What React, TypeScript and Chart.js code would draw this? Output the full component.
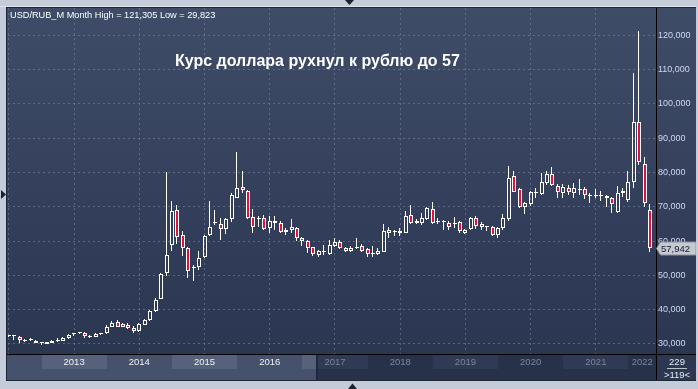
import React, { useEffect, useRef } from 'react';
import { Chart, registerables } from 'chart.js';

Chart.register(...registerables);

// ---- data: monthly USD/RUB candles, Jul 2012 .. May 2022 (119 bars) ----
const START_YEAR = 2012;
const START_MONTH = 6; // July (0-based)
const months: string[] = Array.from({ length: 119 }, (_, i) => {
  const m = START_MONTH + i;
  return `${START_YEAR + Math.floor(m / 12)}-${String((m % 12) + 1).padStart(2, '0')}`;
});

const opens = [
  32.25, 32.2, 31.9, 31.0, 31.2, 30.8, 30.3, 30.0, 30.4, 31.0,
  31.0, 31.7, 32.8, 33.1, 33.2, 32.1, 32.0, 32.8, 33.2, 35.0,
  36.5, 35.0, 35.5, 34.7, 33.9, 35.6, 36.9, 39.5, 43.1, 50.8,
  59.0, 69.0, 61.7, 57.9, 52.2, 52.4, 55.5, 61.9, 65.4, 64.9,
  63.6, 66.4, 72.7, 75.7, 74.5, 66.9, 66.4, 66.6, 63.9, 65.9,
  65.2, 62.6, 63.1, 63.7, 60.8, 60.1, 58.2, 55.8, 56.8, 56.3,
  58.7, 59.7, 57.9, 57.2, 58.1, 58.6, 57.6, 56.2, 56.2, 56.9,
  63.25, 62.6, 63.0, 62.5, 67.6, 65.2, 65.4, 66.4, 69.3, 65.6,
  65.7, 65.4, 65.1, 65.5, 62.5, 63.5, 66.6, 65.0, 64.0, 64.2,
  61.7, 63.7, 66.4, 78.9, 75.1, 69.8, 70.8, 74.0, 73.7, 76.8,
  79.7, 76.2, 74.0, 75.4, 73.9, 75.3, 75.2, 73.3, 73.1, 73.2,
  73.1, 72.5, 68.4, 73.9, 72.1, 77.1, 94.6, 82.5, 69.1,
];

const highs = [
  32.4, 32.7, 32.4, 31.4, 31.6, 31.1, 30.5, 30.7, 31.1, 31.6,
  32.0, 33.0, 33.3, 33.3, 33.4, 32.5, 33.2, 33.3, 35.4, 36.6,
  37.0, 36.2, 36.0, 35.2, 36.0, 37.4, 39.9, 43.4, 50.6, 80.2,
  71.7, 70.5, 63.0, 58.4, 53.1, 57.1, 61.8, 71.7, 69.1, 66.7,
  66.7, 73.9, 86.0, 80.4, 74.9, 69.3, 67.4, 67.5, 67.3, 67.3,
  65.8, 63.8, 66.4, 64.2, 61.3, 60.3, 58.4, 57.4, 58.9, 60.3,
  60.8, 60.3, 58.4, 58.6, 60.8, 59.2, 58.0, 58.6, 58.0, 64.9,
  64.0, 63.3, 63.9, 68.9, 70.5, 66.4, 68.1, 69.8, 71.5, 66.6,
  66.2, 66.0, 66.9, 66.0, 63.5, 67.0, 67.3, 65.7, 64.2, 64.4,
  64.0, 67.9, 82.0, 80.3, 75.4, 71.3, 74.6, 75.4, 79.8, 80.3,
  81.6, 76.5, 76.6, 76.3, 76.8, 78.0, 75.8, 73.9, 75.1, 74.7,
  73.4, 73.0, 76.0, 75.4, 80.4, 109.0, 121.305, 84.6, 70.8,
];

const lows = [
  32.0, 31.3, 30.4, 30.6, 30.8, 30.2, 29.823, 29.9, 30.3, 30.7,
  30.9, 31.5, 32.4, 32.9, 31.7, 31.6, 31.9, 32.5, 32.9, 34.9,
  34.9, 34.9, 34.3, 33.3, 33.6, 35.4, 36.6, 39.3, 43.0, 49.9,
  57.2, 59.2, 55.7, 49.1, 48.5, 51.6, 55.0, 61.5, 64.7, 60.3,
  62.1, 65.7, 72.5, 74.1, 66.5, 62.5, 64.0, 63.1, 62.5, 63.1,
  62.3, 61.7, 62.5, 59.9, 58.7, 56.5, 55.7, 55.5, 56.0, 56.0,
  58.4, 57.7, 56.7, 56.7, 57.6, 56.7, 55.3, 55.3, 56.0, 56.7,
  60.8, 61.5, 61.5, 62.3, 64.9, 64.9, 64.7, 66.2, 65.0, 65.0,
  63.3, 63.3, 63.7, 62.3, 62.1, 63.3, 63.5, 63.3, 62.8, 61.5,
  60.9, 63.3, 65.9, 74.2, 69.7, 68.0, 70.3, 72.5, 73.4, 76.3,
  76.0, 72.6, 72.5, 73.5, 72.5, 73.4, 72.4, 71.2, 72.5, 71.8,
  69.9, 68.1, 68.3, 72.9, 71.5, 75.5, 82.2, 70.0, 56.8,
];

const closes = [
  32.3, 32.2, 31.2, 31.1, 31.1, 30.3, 30.35, 30.6, 30.9, 31.1,
  31.7, 32.7, 32.9, 33.2, 32.4, 32.1, 32.9, 32.9, 34.9, 36.0,
  35.0, 35.7, 34.7, 33.8, 35.7, 37.1, 39.5, 42.9, 50.4, 55.9,
  68.8, 61.3, 57.9, 51.4, 52.4, 55.0, 61.5, 64.0, 65.2, 63.6,
  66.4, 73.4, 75.4, 74.9, 66.8, 64.2, 66.7, 63.5, 65.9, 65.2,
  62.6, 63.3, 64.0, 61.0, 59.9, 58.1, 56.1, 57.0, 56.7, 58.9,
  59.7, 57.9, 57.2, 58.1, 58.2, 57.2, 56.2, 56.3, 57.1, 62.9,
  62.3, 62.7, 62.3, 67.3, 65.4, 65.9, 66.6, 69.6, 65.2, 65.7,
  65.5, 64.2, 65.2, 62.8, 63.3, 66.6, 64.5, 64.0, 64.1, 61.8,
  63.7, 66.6, 78.3, 74.4, 69.9, 71.0, 74.2, 74.2, 77.3, 79.5,
  76.3, 74.2, 75.7, 74.4, 75.4, 75.0, 73.3, 73.1, 73.2, 73.1,
  72.5, 70.7, 73.9, 74.6, 77.1, 94.6, 83.1, 71.0, 57.942,
];

const yearLabels = ['2013', '2014', '2015', '2016', '2017', '2018', '2019', '2020', '2021', '2022'];
const yearStartIdx = [6, 18, 30, 42, 54, 66, 78, 90, 102, 114];
const yTicks = [30, 40, 50, 60, 70, 80, 90, 100, 110, 120];

const SYMBOL = 'USD/RUB_M';
const PERIOD = 'Month';
const TITLE = 'Курс доллара рухнул к рублю до 57';
const TOTAL_BARS = '229';

// ---- view constants ----
const X_MIN = -0.166;
const X_MAX = 119.064;
const Y_MIN = 27.08;
const Y_MAX = 127.96;
const yearLabelPos = [...yearStartIdx.slice(0, -1).map((v) => v + 6), (yearStartIdx[yearStartIdx.length - 1] + X_MAX) / 2];

const RED = '#e0123c';
const WHITE = '#ffffff';
const GRID = 'rgba(118,132,162,0.6)';
const FONT = '"Liberation Sans", Arial, sans-serif';

const fmt = (v: number) => v.toFixed(3).replace('.', ',');

// snap the library-computed bar geometry to whole pixels for crisp candles
const snapPlugin = {
  id: 'snap',
  afterDatasetsUpdate(chart: any) {
    chart.data.datasets.forEach((ds: any, di: number) => {
      const meta = chart.getDatasetMeta(di);
      meta.data.forEach((el: any) => {
        const cx = Math.round(el.x);
        el.x = ds.label === 'body' ? cx : cx - 0.5;
        el.y = Math.round(el.y);
        el.base = Math.round(el.base);
        el.height = el.base - el.y;
      });
    });
  },
};

const framePlugin = {
  id: 'frame',
  beforeDraw(chart: any) {
    const { ctx, chartArea: ca, scales } = chart;
    const W = chart.width;
    const H = chart.height;
    ctx.save();
    ctx.fillStyle = '#c3ccd8';
    ctx.fillRect(0, 0, W, H);
    ctx.fillStyle = '#dfe5ec';
    ctx.fillRect(0, 6, W, 1);
    ctx.fillStyle = '#1e2738';
    ctx.fillRect(6, 7, W - 7, 374);
    const g = ctx.createLinearGradient(0, ca.top, 0, ca.bottom);
    g.addColorStop(0, '#3f4c68');
    g.addColorStop(1, '#2b3651');
    ctx.fillStyle = g;
    ctx.fillRect(7, 8, W - 9, ca.bottom - 8);

    const barTop = ca.bottom + 1;
    const barBot = 380;
    const split = 317;
    const xs = scales.x;
    ctx.fillStyle = '#46526b';
    ctx.fillRect(7, barTop, split - 7, barBot - barTop);
    ctx.fillStyle = '#27324a';
    ctx.fillRect(split, barTop, ca.right - split, barBot - barTop);
    for (let k = 0; k < yearStartIdx.length; k += 2) {
      const a = Math.round(xs.getPixelForValue(yearStartIdx[k]));
      const b = k + 1 < yearStartIdx.length ? Math.round(xs.getPixelForValue(yearStartIdx[k + 1])) : ca.right;
      const la = Math.max(a, 7);
      const lb = Math.min(b, split);
      if (lb > la) {
        ctx.fillStyle = '#56627b';
        ctx.fillRect(la, barTop, lb - la, 14);
      }
      const ra = Math.max(a, split);
      const rb = Math.min(b, ca.right);
      if (rb > ra) {
        ctx.fillStyle = '#2f3a54';
        ctx.fillRect(ra, barTop, rb - ra, 14);
      }
    }
    ctx.fillStyle = '#20293b';
    ctx.fillRect(split - 1, barTop, 2, barBot - barTop);
    ctx.fillStyle = '#2c3752';
    ctx.fillRect(ca.right, barTop, W - 2 - ca.right, barBot - barTop);
    ctx.restore();
  },
  afterDraw(chart: any) {
    const { ctx, chartArea: ca, scales } = chart;
    const W = chart.width;
    ctx.save();
    // separators
    ctx.strokeStyle = '#000000';
    ctx.lineWidth = 1;
    ctx.beginPath();
    ctx.moveTo(7, ca.bottom + 0.5);
    ctx.lineTo(W - 2, ca.bottom + 0.5);
    ctx.moveTo(ca.right + 0.5, 8);
    ctx.lineTo(ca.right + 0.5, 380);
    ctx.stroke();

    // triangles on the frame
    ctx.fillStyle = '#1a2232';
    ctx.beginPath();
    ctx.moveTo(345, 0); ctx.lineTo(354, 0); ctx.lineTo(349.5, 5); ctx.closePath(); ctx.fill();
    ctx.beginPath();
    ctx.moveTo(1, 190); ctx.lineTo(1, 199); ctx.lineTo(6, 194.5); ctx.closePath(); ctx.fill();
    ctx.beginPath();
    ctx.moveTo(348, 389); ctx.lineTo(357, 389); ctx.lineTo(352.5, 383.5); ctx.closePath(); ctx.fill();

    // header label
    ctx.fillStyle = '#ffffff';
    ctx.font = `9.2px ${FONT}`;
    ctx.textBaseline = 'middle';
    ctx.textAlign = 'left';
    ctx.fillText(`${SYMBOL} ${PERIOD} High = ${fmt(Math.max(...highs))} Low = ${fmt(Math.min(...lows))}`, 10, 15);

    // big title
    ctx.font = `bold 16px ${FONT}`;
    ctx.fillText(TITLE, 175, 62);

    // last price tag
    const last = closes[closes.length - 1];
    const y = Math.round(scales.y.getPixelForValue(last)) + 0.5;
    ctx.beginPath();
    ctx.moveTo(656.5, y);
    ctx.lineTo(660.5, y - 6.5);
    ctx.lineTo(696, y - 6.5);
    ctx.lineTo(696, y + 6.5);
    ctx.lineTo(660.5, y + 6.5);
    ctx.closePath();
    ctx.fillStyle = '#c5c9d1';
    ctx.fill();
    ctx.strokeStyle = '#8c929c';
    ctx.stroke();
    ctx.fillStyle = '#121a2b';
    ctx.font = `9.5px ${FONT}`;
    ctx.fillText(fmt(last), 661, y + 0.5);

    // bar counters
    ctx.fillStyle = '#e6eaf0';
    ctx.textAlign = 'center';
    ctx.font = `9.5px ${FONT}`;
    ctx.fillText(TOTAL_BARS, 677, 362);
    ctx.fillText(`>${closes.length}<`, 677, 375.5);
    ctx.strokeStyle = '#b8c0cc';
    ctx.beginPath();
    ctx.moveTo(667, 368.5);
    ctx.lineTo(687, 368.5);
    ctx.stroke();

    // right frame edge
    ctx.fillStyle = '#c3ccd8';
    ctx.fillRect(W - 2, 0, 2, chart.height);
    ctx.restore();
  },
};

export default function App() {
  const ref = useRef<HTMLCanvasElement | null>(null);

  useEffect(() => {
    if (!ref.current) return;
    const bodies = opens.map((o, i) => ({ x: i, y: [o, closes[i]] }));
    const upper = opens.map((o, i) => ({ x: i, y: [Math.max(o, closes[i]), highs[i]] }));
    const lower = opens.map((o, i) => ({ x: i, y: [lows[i], Math.min(o, closes[i])] }));
    const bodyColors = opens.map((o, i) => (closes[i] < o ? RED : 'rgba(0,0,0,0)'));

    const chart = new Chart(ref.current, {
      type: 'bar',
      data: {
        labels: months,
        datasets: [
          {
            label: 'body',
            data: bodies as any,
            backgroundColor: bodyColors,
            borderColor: WHITE,
            borderWidth: 1,
            borderSkipped: false,
            barThickness: 4,
            minBarLength: 1,
            grouped: false,
            inflateAmount: 0,
            order: 0,
          } as any,
          {
            label: 'upper',
            data: upper as any,
            backgroundColor: WHITE,
            borderWidth: 0,
            barThickness: 1,
            grouped: false,
            inflateAmount: 0,
            order: 1,
          } as any,
          {
            label: 'lower',
            data: lower as any,
            backgroundColor: WHITE,
            borderWidth: 0,
            barThickness: 1,
            grouped: false,
            inflateAmount: 0,
            order: 1,
          } as any,
        ],
      },
      options: {
        responsive: false,
        animation: false,
        devicePixelRatio: 1,
        events: [],
        layout: { padding: { left: 8, top: 8, right: 1, bottom: 9 } },
        plugins: {
          legend: { display: false },
          tooltip: { enabled: false },
        },
        scales: {
          x: {
            type: 'linear',
            position: 'bottom',
            weight: 0,
            min: X_MIN,
            max: X_MAX,
            offset: false,
            grid: { color: GRID, lineWidth: 1, drawTicks: false },
            border: { display: true, color: '#000000', width: 1, dash: [2, 3] },
            ticks: { display: false },
            afterBuildTicks: (s: any) => {
              s.ticks = yearStartIdx.map((v) => ({ value: v }));
            },
            afterFit: (s: any) => {
              s.height = 0;
            },
          },
          xl: {
            type: 'linear',
            position: 'bottom',
            weight: 1,
            min: X_MIN,
            max: X_MAX,
            offset: false,
            grid: { display: false, drawTicks: false },
            border: { display: false },
            ticks: {
              autoSkip: false,
              maxRotation: 0,
              padding: 3,
              font: { family: FONT, size: 9.5 },
              color: (c: any) => (c.index <= 3 ? '#eef1f6' : '#7c8699'),
              callback: (_v: any, i: number) => yearLabels[i],
            },
            afterBuildTicks: (s: any) => {
              s.ticks = yearLabelPos.map((v) => ({ value: v }));
            },
            afterFit: (s: any) => {
              s.height = 26;
            },
          },
          y: {
            type: 'linear',
            position: 'right',
            min: Y_MIN,
            max: Y_MAX,
            grid: { color: GRID, lineWidth: 1, drawTicks: false },
            border: { display: true, color: '#000000', width: 1, dash: [2, 3] },
            ticks: {
              autoSkip: false,
              padding: 2,
              color: '#cdd9ee',
              font: { family: FONT, size: 9 },
              callback: (v: any) => fmt(Number(v)),
            },
            afterBuildTicks: (s: any) => {
              s.ticks = yTicks.map((v) => ({ value: v }));
            },
            afterFit: (s: any) => {
              s.width = 41;
            },
          },
        } as any,
      },
      plugins: [snapPlugin, framePlugin],
    });
    return () => chart.destroy();
  }, []);

  return (
    <div style={{ position: 'fixed', left: 0, top: 0, width: 698, height: 389 }}>
      <canvas ref={ref} width={698} height={389} style={{ width: 698, height: 389, display: 'block' }} />
    </div>
  );
}
